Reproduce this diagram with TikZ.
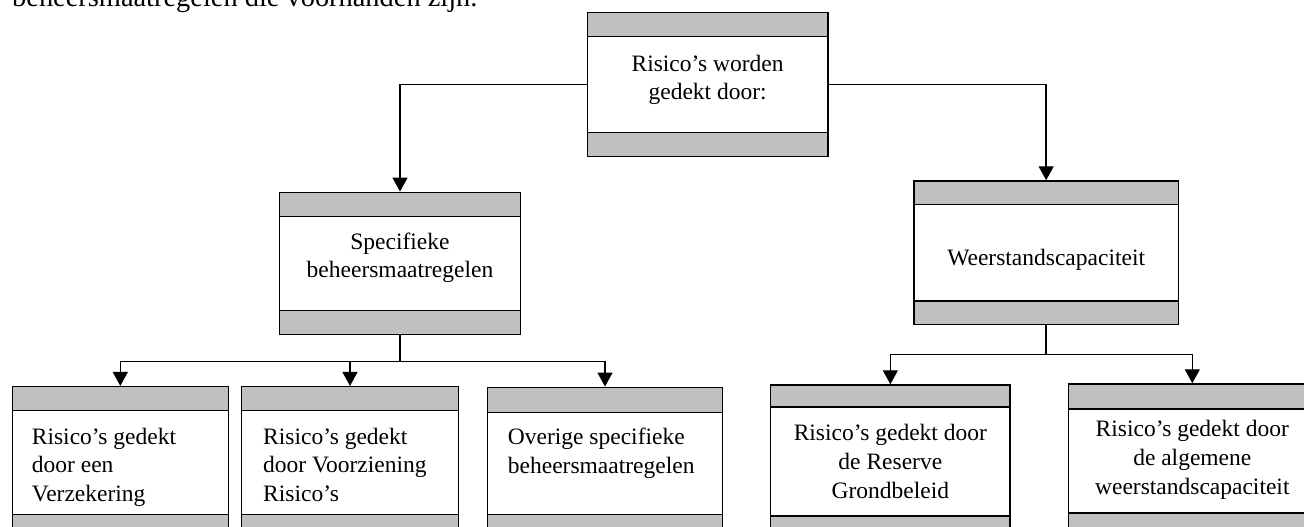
\documentclass[tikz,border=0pt]{standalone}
\usepackage{fontspec}
\setmainfont{Liberation Serif}
\usetikzlibrary{arrows.meta}
\definecolor{bandgray}{RGB}{192,192,192}
\newcommand{\boxbands}[1]{%
  \fill[bandgray] (path picture bounding box.north west) rectangle ([yshift=-#1pt]path picture bounding box.north east);
  \fill[bandgray] (path picture bounding box.south west) rectangle ([yshift=#1pt]path picture bounding box.south east);
  \draw[line width=1.5pt] ([yshift=-#1pt]path picture bounding box.north west) -- ([yshift=-#1pt]path picture bounding box.north east);
  \draw[line width=1.5pt] ([yshift=#1pt]path picture bounding box.south west) -- ([yshift=#1pt]path picture bounding box.south east);
}
\newcommand{\mylines}[2]{\begin{tabular}[t]{@{}#1@{}}#2\end{tabular}}
\tikzset{
  box/.style={draw, line width=1.5pt, rectangle, inner sep=0pt, fill=white, path picture={\boxbands{#1}}},
  box/.default=24,
  lbl/.style={inner sep=0pt, font=\fontsize{23.5}{28.7}\selectfont},
  arr/.style={line width=1.4pt, -{Triangle[length=14pt,width=15pt]}},
  link/.style={line width=1.4pt},
}
\begin{document}
\begin{tikzpicture}[x=1pt,y=-1pt]
\useasboundingbox (0,0) rectangle (1304,527);
\clip (0,0) rectangle (1304,527);
\node[inner sep=0pt, anchor=base west, font=\fontsize{28.4}{34}\selectfont] (cap) at (12,7) {beheersmaatregelen die voorhanden zijn.};

\node[box, minimum width=240.7pt, minimum height=144.4pt] (top) at (707.65,84.5) {};
\node[lbl, anchor=base] (topt) at (707.65,71) {\mylines{c}{Risico’s worden\\gedekt door:}};

\node[box, minimum width=241.4pt, minimum height=142pt] (spec) at (400,263.3) {};
\node[lbl, anchor=base] (spect) at (400,249) {\mylines{c}{Specifieke\\beheersmaatregelen}};

\node[box=23.5, minimum width=264.3pt, minimum height=143.3pt] (weer) at (1046.15,252.65) {};
\node[lbl, anchor=base] (weert) at (1046.15,265.7) {Weerstandscapaciteit};

\node[box, minimum width=216pt, minimum height=152pt] (b1) at (120.3,462.7) {};
\node[lbl, anchor=base west] (b1t) at (31.7,444) {\mylines{l}{Risico’s gedekt\\door een\\Verzekering}};

\node[box, minimum width=216.6pt, minimum height=152pt] (b2) at (350,462.7) {};
\node[lbl, anchor=base west] (b2t) at (263,444) {\mylines{l}{Risico’s gedekt\\door Voorziening\\Risico’s}};

\node[box=25, minimum width=235.4pt, minimum height=152pt] (b3) at (605,463.3) {};
\node[lbl, anchor=base west] (b3t) at (507.7,444.3) {\mylines{l}{Overige specifieke\\beheersmaatregelen}};

\node[box=22, minimum width=239.3pt, minimum height=153pt] (b4) at (890.35,461.5) {};
\node[lbl, anchor=base] (b4t) at (890.35,440.7) {\mylines{c}{Risico’s gedekt door\\de Reserve\\Grondbeleid}};

\node[box=25, minimum width=248pt, minimum height=154pt] (b5) at (1192.3,461) {};
\node[lbl, anchor=base] (b5t) at (1192.3,436.7) {\mylines{c}{Risico’s gedekt door\\de algemene\\weerstandscapaciteit}};

\draw[arr] (top.west) -| (spec.north);
\draw[arr] (top.east) -| (weer.north);
\draw[link] (spec.south) -- ++(0,26.7) coordinate (sj);
\draw[arr] (sj) -| (b1.north);
\draw[arr] (sj) -| (b2.north);
\draw[arr] (sj) -| (b3.north);
\draw[link] (weer.south) -- ++(0,29.7) coordinate (wj);
\draw[arr] (wj) -| (b4.north);
\draw[arr] (wj) -| (b5.north);
\end{tikzpicture}
\end{document}
